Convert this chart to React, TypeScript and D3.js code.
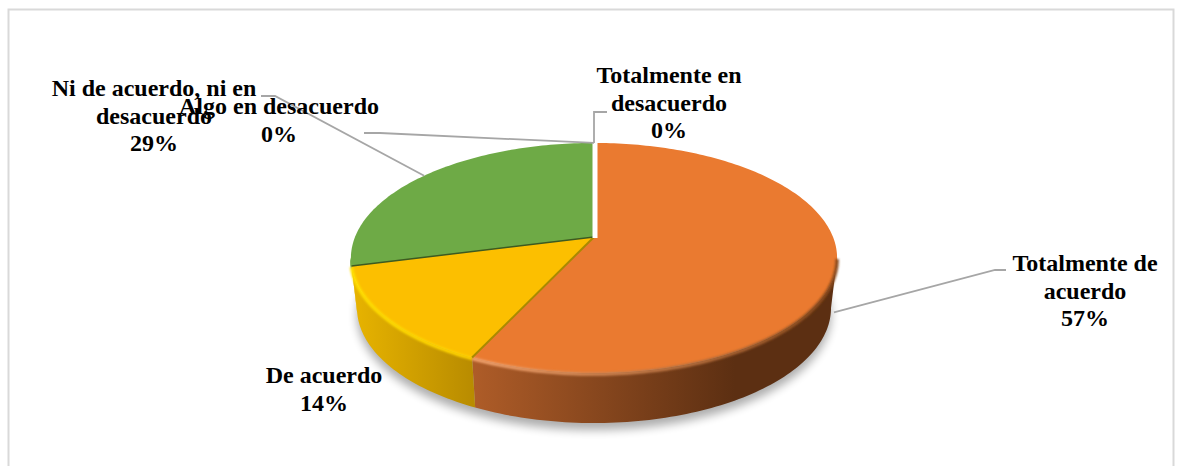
import { useMemo } from "react";
import * as d3 from "d3";

const categories = [
  "Totalmente de acuerdo",
  "De acuerdo",
  "Ni de acuerdo, ni en desacuerdo",
  "Algo en desacuerdo",
  "Totalmente en desacuerdo",
];
const percents = [57, 14, 29, 0, 0];
const faceColors = ["#ea7a30", "#fcbf00", "#6eaa46", "#ffffff", "#ffffff"];
const rimLeft = ["#f3a36e", "#ffdf00", "#6eaa46", "#ffffff", "#ffffff"];
const rimRight = ["#8a4a1c", "#ffd000", "#ffdf00", "#ffffff", "#ffffff"];
const sideLeft = ["#ae5c28", "#e8b400", "#e8b400", "#ffffff", "#ffffff"];
const sideRight = ["#5c2f12", "#b98c00", "#e8b400", "#ffffff", "#ffffff"];

// wrapped label text, in category order
const labelLines = [
  ["Totalmente de", "acuerdo", "57%"],
  ["De acuerdo", "14%"],
  ["Ni de acuerdo, ni en", "desacuerdo", "29%"],
  ["Algo en desacuerdo", "0%"],
  ["Totalmente en", "desacuerdo", "0%"],
];

const WIDTH = 1181;
const HEIGHT = 466;

// pie geometry: a tilted disc seen in perspective
const cx = 594;
const cy = 237;
const halfW = 239;
const halfH = 111.2;
const persp = 0.1826;
const depth = 50;
// the rim's silhouette points, where the side wall starts to show
const wallStart = Math.acos(-persp);
const wallEnd = Math.PI * 2 - wallStart;

const labelLayout = [
  { x: 1085, y: 271, leader: [[1006, 270], [995, 270]], dropY: 50 },
  { x: 324, y: 383, leader: null, dropY: 0 },
  { x: 154, y: 96, leader: [[261, 96], [275, 96]], dropY: 0 },
  { x: 279, y: 114, leader: [[364, 133], [380, 133]], dropY: 0 },
  { x: 669, y: 83, leader: [[607, 112], [594, 112]], dropY: 0 },
];

function project(angle: number, lower = false): [number, number] {
  const u = Math.sin(angle);
  const v = -Math.cos(angle);
  const d = 1 - persp * v;
  const shrink = lower ? 0.975 : 1;
  return [
    cx + (shrink * halfW * u) / d,
    cy + (lower ? depth : 0) + (halfH * v) / d,
  ];
}

function arcPoints(a0: number, a1: number, lower = false) {
  const n = Math.max(2, Math.ceil(Math.abs(a1 - a0) / 0.02));
  return d3.range(n + 1).map((i) => project(a0 + ((a1 - a0) * i) / n, lower));
}

export default function App() {
  const slices = useMemo(
    () =>
      d3
        .pie<number>()
        .sort(null)
        .value((d) => d)(percents),
    []
  );
  const line = d3.line();

  return (
    <svg
      width={WIDTH}
      height={HEIGHT}
      style={{ position: "fixed", left: 0, top: 0, background: "#fff" }}
      fontFamily="'Liberation Serif', serif"
    >
      <defs>
        <filter id="pieShadow" x="-20%" y="-20%" width="140%" height="140%">
          <feGaussianBlur stdDeviation="5" />
        </filter>
        <filter id="rimBlur" x="-5%" y="-20%" width="110%" height="140%">
          <feGaussianBlur stdDeviation="0.9" />
        </filter>
        {slices.map((s, i) => {
          const pts = arcPoints(s.startAngle, s.endAngle);
          const xs = pts.map((p) => p[0]);
          const x1 = i === 0 ? 474 : d3.min(xs);
          const x2 = i === 0 ? 735 : d3.max(xs);
          return (
            <g key={i}>
              <linearGradient id={`side${i}`} gradientUnits="userSpaceOnUse" x1={x1} x2={x2} y1={0} y2={0}>
                <stop offset="0" stopColor={sideLeft[i]} />
                <stop offset="1" stopColor={sideRight[i]} />
              </linearGradient>
              <linearGradient
                id={`rim${i}`}
                gradientUnits="userSpaceOnUse"
                x1={x1}
                x2={i === 0 ? 835 : x2}
                y1={0}
                y2={0}
              >
                <stop offset="0" stopColor={rimLeft[i]} />
                <stop offset="1" stopColor={rimRight[i]} />
              </linearGradient>
            </g>
          );
        })}
      </defs>

      {/* chart frame, open at the bottom of the crop */}
      <path
        d={`M8.5,${HEIGHT} V9.5 H1173.5 V${HEIGHT}`}
        fill="none"
        stroke="#d9d9d9"
        strokeWidth={2}
      />

      {/* soft shadow under the disc */}
      <path
        d={line(arcPoints(0, Math.PI * 2, true).map(([x, y]) => [x, y + 7]))! + "Z"}
        fill="#000"
        opacity={0.32}
        filter="url(#pieShadow)"
      />

      {/* side wall, only the front of the rim shows */}
      {slices.map((s, i) => {
        const start = Math.max(s.startAngle, wallStart);
        const end = Math.min(s.endAngle, wallEnd);
        if (end <= start) return null;
        const top = arcPoints(start, end);
        const bottom = arcPoints(end, start, true);
        return (
          <path
            key={i}
            d={line([...top, ...bottom])! + "Z"}
            fill={`url(#side${i})`}
          />
        );
      })}

      {/* top faces */}
      {slices.map((s, i) => {
        if (s.endAngle - s.startAngle === 0) return null;
        return (
          <path
            key={i}
            d={line([[cx, cy], ...arcPoints(s.startAngle, s.endAngle)])! + "Z"}
            fill={faceColors[i]}
          />
        );
      })}

      {/* bevel on the front rim */}
      {slices.map((s, i) => {
        const start = Math.max(s.startAngle, wallStart);
        const end = Math.min(s.endAngle, wallEnd);
        if (end <= start) return null;
        return (
          <path
            key={i}
            d={line(arcPoints(start, end).map(([x, y]) => [x, y + 1]))!}
            fill="none"
            stroke={`url(#rim${i})`}
            strokeWidth={3.5}
            filter="url(#rimBlur)"
          />
        );
      })}

      {/* slice seams */}
      <path
        d={line([[cx, cy], project(slices[0].endAngle)])!}
        stroke="#a98a00"
        strokeWidth={2}
      />
      <path
        d={line([[cx, cy], project(slices[1].endAngle)])!}
        stroke="#3d5a20"
        strokeWidth={1.5}
      />
      <path
        d={line([[cx + 1, cy + 1], project(0).map((v, k) => (k === 0 ? v + 1 : v - 1)) as [number, number]])!}
        stroke="#fff"
        strokeWidth={5}
      />

      {/* leader lines: label end, elbow, then the slice's anchor */}
      {slices.map((s, i) => {
        const layout = labelLayout[i];
        if (!layout.leader) return null;
        const mid = (s.startAngle + s.endAngle) / 2;
        const anchor = project(mid);
        return (
          <path
            key={i}
            d={
              line([
                layout.leader[0] as [number, number],
                layout.leader[1] as [number, number],
                [anchor[0] - (layout.dropY ? 3 : 0), anchor[1] + layout.dropY],
              ])!
            }
            fill="none"
            stroke="#a6a6a6"
            strokeWidth={1.8}
          />
        );
      })}

      {/* data labels */}
      {categories.map((c, i) => (
        <text
          key={c}
          x={labelLayout[i].x}
          y={labelLayout[i].y}
          textAnchor="middle"
          fontSize={24}
          fontWeight={700}
          fill="#000"
        >
          {labelLines[i].map((t, j) => (
            <tspan key={j} x={labelLayout[i].x} dy={j === 0 ? 0 : 27.5}>
              {t}
            </tspan>
          ))}
        </text>
      ))}
    </svg>
  );
}
